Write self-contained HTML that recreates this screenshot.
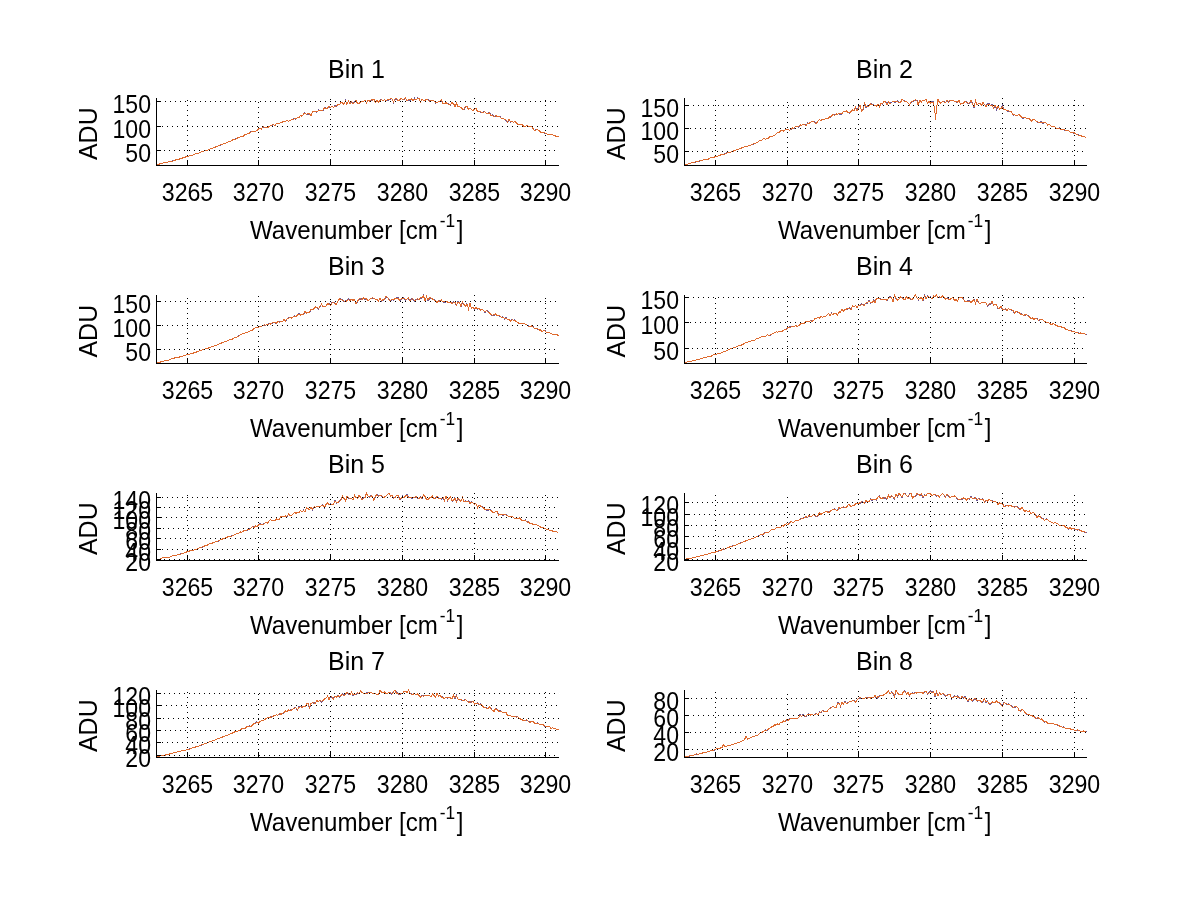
<!DOCTYPE html><html><head><meta charset="utf-8"><style>html,body{margin:0;padding:0;background:#fff;overflow:hidden}svg{display:block}</style></head><body><svg width="1200" height="901" viewBox="0 0 1200 901"><rect width="1200" height="901" fill="#fff"/><g stroke-width="1" fill="none" shape-rendering="crispEdges"><path d="M156.5 164.6 158 164.4 159.5 164 161 163.6 162.5 163.3 164 162.8 165.5 162.8 167 162.6 168.5 161.9 170 161.5 171.5 161.2 173 160.9 174.5 160.4 176 159.8 177.5 159.5 179 159.4 180.5 158.5 182 158.2 183.5 157.4 185 157.2 186.5 156.7 188 156.5 189.5 155.9 191 155.7 192.5 155.3 194 154.6 195.5 153.7 197 153.7 198.5 153.4 200 152.6 201.5 151.8 203 151.5 204.5 150.9 206 150.3 207.5 150.2 209 149.3 210.5 148.8 212 148.4 213.5 147.6 215 147 216.5 146.5 218 146 219.5 145.3 221 144.9 222.5 144.5 224 143.4 225.5 143.4 227 142.6 228.5 141.7 230 141.8 231.5 140.9 233 139.5 234.5 139.2 236 138.8 237.5 138.2 239 137.7 240.5 136.9 242 136.3 243.5 136.3 245 134.4 246.5 134.3 248 133.8 249.5 133.2 251 131.7 252.5 131.5 254 131.2 255.5 131.4 257 130.7 258.5 128.4 260 128.5 261.5 129 263 126.8 264.5 127.6 266 127.1 267.5 127.7 269 126.4 270.5 125.7 272 125.6 273.5 124.9 275 125.6 276.5 123.7 278 123.8 279.5 123.1 281 122.6 282.5 122.2 284 121.1 285.5 121.2 287 120.6 288.5 121.4 290 120.6 291.5 119.5 293 119.3 294.5 118.3 296 119.3 297.5 117.3 299 117.6 300.5 115.6 302 116.1 303.5 114 305 112.7 306.5 114.7 308 114 309.5 114.5 311 115.4 312.5 112 314 111.5 315.5 111.9 317 112.3 318.5 110 320 110.4 321.5 110.6 323 110.5 324.5 107.8 326 108.1 327.5 108.2 329 106.7 330.5 107.6 332 106 333.5 107.4 335 105.4 336.5 106.2 338 104.9 339.5 104.9 341 102.1 342.5 103.2 344 104.2 345.5 100.5 347 104.4 348.5 101.4 350 103.3 351.5 102.2 353 103.3 354.5 102 356 100.8 357.5 103.7 359 103.3 360.5 101.5 362 101.7 363.5 101.9 365 99.9 366.5 103 368 100.8 369.5 100.7 371 100.1 372.5 100.1 374 98.8 375.5 102.3 377 100.5 378.5 102 380 100.3 381.5 99.3 383 101.3 384.5 99.7 386 100.7 387.5 100.3 389 100.1 390.5 99.3 392 98.6 393.5 102.7 395 98.9 396.5 99.4 398 101.2 399.5 99.4 401 98 402.5 99.9 404 99.4 405.5 98 407 100.9 408.5 100.1 410 100.4 411.5 98.9 413 101.1 414.5 98.2 416 100.2 417.5 98 419 98.9 420.5 101.9 422 99.1 423.5 100.8 425 99.8 426.5 99.3 428 98.9 429.5 101.3 431 100.3 432.5 100.9 434 100.7 435.5 103.1 437 102.1 438.5 101.9 440 101.1 441.5 100.5 443 103.2 444.5 103.6 446 102.4 447.5 103.7 449 103.9 450.5 105.1 452 102.4 453.5 103.8 455 106.1 456.5 103.6 458 106.7 459.5 106.3 461 108.2 462.5 109.2 464 109.8 465.5 106.7 467 105.9 468.5 109.5 470 108.1 471.5 109.6 473 111 474.5 108.5 476 107.9 477.5 111.5 479 110.9 480.5 112 482 112.4 483.5 111.8 485 111.8 486.5 113.8 488 112.8 489.5 112.4 491 115.2 492.5 114.8 494 116 495.5 116 497 115.9 498.5 116.6 500 116.5 501.5 118.5 503 117.9 504.5 119.5 506 120.2 507.5 122.5 509 119.6 510.5 122 512 121.3 513.5 122.3 515 121.5 516.5 123.1 518 124.3 519.5 124.6 521 124.3 522.5 125 524 126.8 525.5 126.2 527 125.1 528.5 126.8 530 126.2 531.5 126.3 533 129.1 534.5 130.5 536 129.8 537.5 129.7 539 130.5 540.5 132.4 542 132 543.5 132.5 545 133.2 546.5 133.7 548 134.3 549.5 134.5 551 134.7 552.5 134.7 554 135.6 555.5 136 557 136.9 558.5 136.5" stroke="#6a5898"/><path d="M156.5 164.6 158 164.4 159.5 164 161 163.5 162.5 163.3 164 162.8 165.5 162.7 167 162.6 168.5 161.8 170 161.4 171.5 161.3 173 160.9 174.5 160.4 176 159.8 177.5 159.6 179 159.3 180.5 158.5 182 158.2 183.5 157.5 185 157.2 186.5 156.7 188 156.5 189.5 155.9 191 155.7 192.5 155.2 194 154.7 195.5 153.7 197 153.6 198.5 153.2 200 152.7 201.5 151.8 203 151.5 204.5 150.9 206 150.4 207.5 150.2 209 149.3 210.5 148.9 212 148.5 213.5 147.6 215 147.2 216.5 146.6 218 146.1 219.5 145.2 221 144.9 222.5 144.6 224 143.4 225.5 143.4 227 142.6 228.5 141.7 230 141.9 231.5 140.9 233 139.6 234.5 139.4 236 138.9 237.5 138 239 137.7 240.5 136.7 242 136.4 243.5 136.1 245 134.5 246.5 134.3 248 133.4 249.5 133.1 251 131.8 252.5 131.5 254 131.1 255.5 131.2 257 130.8 258.5 128.8 260 128.6 261.5 129 263 126.8 264.5 127.3 266 127.1 267.5 127.5 269 126.7 270.5 125.5 272 125 273.5 124.7 275 125.6 276.5 123.7 278 123.3 279.5 123.4 281 122.6 282.5 122.1 284 120.9 285.5 121.4 287 120.5 288.5 121.5 290 120.6 291.5 119.5 293 119.7 294.5 118.3 296 119.1 297.5 117.6 299 117.7 300.5 115.4 302 116.4 303.5 114 305 113.1 306.5 114.3 308 113.2 309.5 113.8 311 115.5 312.5 111.7 314 111.5 315.5 111.9 317 111.7 318.5 110.5 320 110 321.5 110.6 323 109.9 324.5 107.7 326 108.4 327.5 108.1 329 106.4 330.5 107.6 332 105.8 333.5 107.7 335 106.3 336.5 105.8 338 104.6 339.5 104.8 341 102 342.5 102.8 344 104.4 345.5 100.8 347 104.4 348.5 100.8 350 103.9 351.5 101.6 353 103.6 354.5 102.6 356 100.2 357.5 103.7 359 103.9 360.5 101.7 362 101.3 363.5 101.3 365 100.1 366.5 102.8 368 100.5 369.5 101 371 99.9 372.5 100.1 374 99.1 375.5 102.5 377 100.5 378.5 102 380 100.6 381.5 99.5 383 100.7 384.5 99.6 386 100.3 387.5 99.7 389 99.8 390.5 98.2 392 99 393.5 102.3 395 99.1 396.5 98.5 398 100.4 399.5 100.3 401 98 402.5 99.6 404 99 405.5 98 407 100.9 408.5 99.9 410 100 411.5 98.9 413 100.6 414.5 99.3 416 99.8 417.5 98.5 419 98.4 420.5 102 422 99.5 423.5 100.6 425 100.2 426.5 99.7 428 99.7 429.5 101.3 431 100.1 432.5 100.4 434 100.8 435.5 102.6 437 102.1 438.5 101.9 440 100.9 441.5 100 443 103.4 444.5 103.7 446 102.5 447.5 103.7 449 104.3 450.5 104.6 452 102.6 453.5 103.6 455 106.5 456.5 103.4 458 106.5 459.5 106.5 461 107.4 462.5 109 464 109 465.5 106.3 467 106.2 468.5 109.6 470 108 471.5 109.6 473 111 474.5 108.6 476 108.6 477.5 111.6 479 111.8 480.5 111.9 482 112.6 483.5 112.1 485 111.8 486.5 113.7 488 113.3 489.5 113 491 115.6 492.5 115.5 494 116.4 495.5 115.5 497 116.2 498.5 116.4 500 117 501.5 118.4 503 118 504.5 119.5 506 120 507.5 121.9 509 119.5 510.5 121.9 512 121.6 513.5 122.2 515 121.5 516.5 122.8 518 124.3 519.5 124.2 521 124.8 522.5 125 524 126.6 525.5 126.3 527 125.3 528.5 126.9 530 126.6 531.5 126.3 533 128.6 534.5 130.3 536 130 537.5 129.9 539 130.5 540.5 132.2 542 132.2 543.5 132.6 545 133 546.5 133.6 548 134.4 549.5 134.7 551 135 552.5 134.8 554 136 555.5 135.9 557 137 558.5 136.4" stroke="#de6a2e"/><path d="M684.5 164.6 686 164.6 687.5 164.2 689 163.7 690.5 163.2 692 162.8 693.5 162.7 695 162.2 696.5 161.7 698 161.3 699.5 161.1 701 160.4 702.5 160.2 704 159.5 705.5 159.7 707 159.2 708.5 159.1 710 157.9 711.5 157.6 713 157.6 714.5 156.9 716 156.6 717.5 156.4 719 155.7 720.5 155 722 154.5 723.5 154.3 725 153.8 726.5 153 728 152.6 729.5 152.4 731 151.9 732.5 151.1 734 150.9 735.5 150.3 737 149.4 738.5 149.3 740 148.8 741.5 148 743 147.1 744.5 146.9 746 146.6 747.5 146.4 749 144.9 750.5 145.4 752 144 753.5 144 755 143.6 756.5 142.7 758 141.9 759.5 140.8 761 140.9 762.5 139.6 764 138.3 765.5 139.5 767 138.1 768.5 138.1 770 136.6 771.5 136.5 773 136.2 774.5 135.4 776 133.8 777.5 132.7 779 132.6 780.5 130.8 782 131 783.5 130.7 785 129.9 786.5 129.9 788 129.2 789.5 130.2 791 129.5 792.5 128 794 128.4 795.5 126.7 797 125.9 798.5 127.2 800 125.5 801.5 125.5 803 124.3 804.5 124.3 806 125.4 807.5 123 809 123.4 810.5 122.6 812 121.5 813.5 121.1 815 122.4 816.5 123.2 818 121.3 819.5 119.6 821 120.4 822.5 119.8 824 119.4 825.5 118.5 827 118.1 828.5 118.6 830 117.3 831.5 116.4 833 114.3 834.5 115.1 836 114.2 837.5 114.3 839 113.8 840.5 114.4 842 113.8 843.5 111.6 845 111.8 846.5 111.5 848 111.9 849.5 113.4 851 111.4 852.5 109.5 854 110.6 855.5 107.5 857 110.3 858.5 107.1 860 104.7 861.5 111.5 863 110.1 864.5 103.5 866 107.4 867.5 105.8 869 106 870.5 103.9 872 103.9 873.5 105.1 875 105 876.5 105.8 878 103.8 879.5 107.2 881 102.7 882.5 104.4 884 100.9 885.5 101.4 887 104.9 888.5 101.5 890 103.1 891.5 102.3 893 101.4 894.5 102.1 896 102.1 897.5 100.6 899 102.7 900.5 102.5 902 99.4 903.5 100.2 905 101.7 906.5 101.7 908 102.9 909.5 104.4 911 102.8 912.5 101.6 914 100.6 915.5 100.3 917 100.4 918 105.1 918.5 103.7 920 99.9 921.5 101.7 923 99.9 924.5 100.6 926 99.1 927.5 103 929 101.1 930.5 101.4 932 101.8 933.5 101.9 935 112.7 935.5 120.3 936.5 108.4 938 98.9 939.5 102.4 941 103.2 942.5 101.3 944 101.8 945.5 102.4 947 100.8 948.5 101.8 950 100.5 951.5 100.3 953 100.6 954.5 101.2 956 102 957.5 102.7 959 99.9 960.5 104.2 962 103.1 963.5 103.8 965 101.5 966.5 102 968 103.8 969.5 103.5 971 100.6 972.5 103.6 974 107.9 975.5 100.7 977 104.8 978.5 103.8 980 102.8 981.5 105 983 102.6 984.5 104.6 986 106.2 987.5 103.9 989 103.7 990.5 105.2 992 104.4 993.5 108.4 995 105.9 996.5 109.5 998 106.6 999.5 109 1001 108.6 1002.5 105.2 1004 109.9 1005.5 109.4 1007 111.1 1008.5 111.2 1010 111.3 1011.5 111.8 1013 115.2 1014.5 114.6 1016 115.7 1017.5 115.2 1019 114.2 1020.5 116.6 1022 118.2 1023.5 118.3 1025 117.2 1026.5 118.2 1028 118.4 1029.5 118.6 1031 121.2 1032.5 120.2 1034 119.3 1035.5 120.7 1037 121.9 1038.5 122.2 1040 122 1041.5 121.9 1043 123.3 1044.5 122.1 1046 123 1047.5 124.9 1049 124.1 1050.5 125.8 1052 126.4 1053.5 126.9 1055 126.9 1056.5 128.4 1058 128.1 1059.5 128 1061 129.2 1062.5 129.5 1064 129.6 1065.5 130.6 1067 131.1 1068.5 130.5 1070 132.2 1071.5 132.4 1073 133 1074.5 133 1076 134.1 1077.5 134.7 1079 135.1 1080.5 135.3 1082 136.6 1083.5 136.1 1085 137 1086.5 138.2" stroke="#6a5898"/><path d="M684.5 164.7 686 164.6 687.5 164.1 689 163.8 690.5 163.2 692 162.7 693.5 162.6 695 162.1 696.5 161.6 698 161.3 699.5 161 701 160.4 702.5 160.1 704 159.6 705.5 159.6 707 159.2 708.5 159.1 710 158 711.5 157.7 713 157.6 714.5 157 716 156.5 717.5 156.5 719 155.6 720.5 155 722 154.5 723.5 154.4 725 153.9 726.5 153.1 728 152.6 729.5 152.4 731 151.9 732.5 151.2 734 150.9 735.5 150.4 737 149.4 738.5 149.2 740 148.8 741.5 148.1 743 147.2 744.5 147 746 146.7 747.5 146.3 749 145 750.5 145.4 752 144.1 753.5 144 755 143.4 756.5 142.8 758 141.9 759.5 140.9 761 140.8 762.5 139.7 764 138.4 765.5 139.7 767 138.2 768.5 138 770 136.3 771.5 136.6 773 136 774.5 135.4 776 134 777.5 132.8 779 132.7 780.5 131 782 130.6 783.5 131 785 129.9 786.5 129.8 788 129.3 789.5 130.1 791 129.3 792.5 127.9 794 128.3 795.5 126.6 797 126.4 798.5 126.9 800 124.9 801.5 125.2 803 124 804.5 124.7 806 125.4 807.5 123.2 809 123.6 810.5 122.3 812 121.7 813.5 121.2 815 123 816.5 123.3 818 121.3 819.5 119.8 821 120.6 822.5 119.3 824 119.8 825.5 118.9 827 118.4 828.5 118.2 830 116.6 831.5 116.3 833 114.5 834.5 115.3 836 113.8 837.5 114.6 839 113.3 840.5 113.9 842 113.8 843.5 111.4 845 111.5 846.5 110.9 848 112.3 849.5 112.9 851 111.5 852.5 109.8 854 110.6 855.5 107.6 857 110.7 858.5 107.8 860 105.1 861.5 110.9 863 109.3 864.5 103.3 866 106.8 867.5 106 869 106 870.5 103.7 872 104.4 873.5 105.6 875 105 876.5 106 878 104.3 879.5 107 881 102.9 882.5 103.9 884 100.9 885.5 101.6 887 104.8 888.5 101.6 890 103.4 891.5 102.5 893 101 894.5 101.8 896 101.5 897.5 101.4 899 102.9 900.5 102.7 902 99.4 903.5 100.4 905 101.9 906.5 101.3 908 102.8 909.5 104.9 911 102.1 912.5 101.1 914 100.9 915.5 99.9 917 100.8 918 104.6 918.5 103.8 920 100.3 921.5 101.9 923 100.2 924.5 100.5 926 99.1 927.5 103 929 101.4 930.5 103.2 932 101.8 933.5 102.8 935 112.6 935.5 119.7 936.5 108.3 938 99.1 939.5 102.5 941 103.2 942.5 101.5 944 102 945.5 102.8 947 100.2 948.5 101.8 950 100.1 951.5 100.4 953 100.6 954.5 101.3 956 101.8 957.5 102.3 959 99.8 960.5 104.5 962 103.5 963.5 103 965 101.6 966.5 102.1 968 103.1 969.5 103 971 100.4 972.5 103.7 974 106.8 975.5 100.6 977 104.5 978.5 103.9 980 103.4 981.5 105.6 983 102.4 984.5 104.4 986 106.4 987.5 104.4 989 104.4 990.5 105.3 992 105 993.5 108 995 105.4 996.5 108.3 998 106.3 999.5 109.2 1001 108.9 1002.5 106.6 1004 110.1 1005.5 109.5 1007 110.7 1008.5 111 1010 111.1 1011.5 111.7 1013 114.9 1014.5 114.1 1016 116.1 1017.5 115.4 1019 114.7 1020.5 116 1022 117.8 1023.5 118 1025 117.6 1026.5 118.2 1028 118.5 1029.5 118.5 1031 121.3 1032.5 120 1034 119.4 1035.5 120.5 1037 121.8 1038.5 122.3 1040 122.1 1041.5 122.1 1043 123.1 1044.5 122.2 1046 122.9 1047.5 125 1049 124.5 1050.5 125.6 1052 126.7 1053.5 126.7 1055 126.8 1056.5 128.8 1058 128.3 1059.5 128.1 1061 129.4 1062.5 129.7 1064 129.5 1065.5 130.6 1067 131 1068.5 130.5 1070 132.1 1071.5 132.6 1073 133 1074.5 132.9 1076 134.1 1077.5 134.7 1079 135.3 1080.5 135.2 1082 136.5 1083.5 136.2 1085 137.1 1086.5 138.2" stroke="#de6a2e"/><path d="M156.5 362.7 158 362.4 159.5 362.3 161 361.9 162.5 361.2 164 361.1 165.5 360.3 167 360.8 168.5 360.2 170 359.4 171.5 358.9 173 358.8 174.5 358 176 357.9 177.5 357.8 179 357.1 180.5 356.6 182 356.3 183.5 355.7 185 355.5 186.5 354.8 188 354.4 189.5 354.3 191 353.4 192.5 353.6 194 352.6 195.5 352.7 197 351.5 198.5 351.4 200 350.7 201.5 350.1 203 349.9 204.5 349.5 206 348.5 207.5 348.5 209 347.7 210.5 347.2 212 346.8 213.5 346.4 215 345.4 216.5 345.3 218 344.6 219.5 343.8 221 343.3 222.5 342.6 224 342.1 225.5 341.8 227 340.9 228.5 340.2 230 339.7 231.5 339.6 233 338.5 234.5 337.8 236 337.7 237.5 336.6 239 335.6 240.5 334.9 242 333.9 243.5 333.3 245 332.9 246.5 332.3 248 332.1 249.5 331.4 251 330.7 252.5 329.8 254 328.6 255.5 327.5 257 327.6 258.5 326.8 260 326.6 261.5 326.7 263 325.3 264.5 325.2 266 325 267.5 324.7 269 323.4 270.5 324 272 323.5 273.5 322.2 275 322.7 276.5 323.6 278 321.2 279.5 322 281 321.8 282.5 321.7 284 319.3 285.5 321.2 287 319.1 288.5 318 290 317.7 291.5 317.7 293 317.3 294.5 315.7 296 317 297.5 315.5 299 313.7 300.5 314.6 302 314.3 303.5 314.6 305 311.4 306.5 313.2 308 311.9 309.5 312.4 311 310 312.5 309.9 314 308.5 315.5 306.6 317 307.3 318.5 308.9 320 306.7 321.5 304.1 323 306.4 324.5 306.9 326 306.1 327.5 303.6 329 303.6 330.5 305 332 302.5 333.5 302.4 335 303.2 336.5 304.6 338 301 339.5 298.2 341 299.5 342.5 299.7 344 301.4 345.5 300.6 347 300.4 348.5 298.9 350 300.5 351.5 299.5 353 300 354.5 299.5 356 303.3 357.5 302.1 359 299.4 360.5 299.2 362 298.8 363.5 297.3 365 299.4 366.5 298.8 368 300.9 369.5 299.4 371 298.1 372.5 298.3 374 298.1 375.5 299.8 377 299 378.5 301.3 380 298.3 381.5 301.2 383 300.2 384.5 299.7 386 296.8 387.5 297.7 389 298.8 390.5 301.3 392 299.1 393.5 300 395 298.2 396.5 297.7 398 297.6 399.5 300.4 401 299.9 402.5 298.1 404 297.9 405.5 300.2 407 298.8 408.5 298.6 410 301.1 411.5 298.7 413 299.3 414.5 301.6 416 299.6 417.5 299.5 419 299.5 420.5 298.2 422 297.9 423.5 295.2 425 300.9 426.5 296.9 428 301 429.5 298.8 431 298.2 432.5 299 434 299.7 435.5 300.4 437 302 438.5 300.6 440 300.6 441.5 300.2 443 302.1 444.5 302.9 446 301.6 447.5 301.8 449 302.6 450.5 301.5 452 303.2 453.5 301.8 455 303.2 456.5 305 458 301.5 459.5 302.9 461 306.9 462.5 301.9 464 304.5 465.5 306 467 303.6 468.5 309.2 470 303.9 471.5 308.1 473 307.1 474.5 309 476 307.4 477.5 309.2 479 308 480.5 310.6 482 309.4 483.5 310.5 485 312.4 486.5 310.2 488 311.6 489.5 313.2 491 314.9 492.5 315.6 494 315.7 495.5 313.8 497 315.7 498.5 315.8 500 316.1 501.5 317.2 503 316.7 504.5 319.1 506 317.6 507.5 319.9 509 318.9 510.5 321.2 512 319.5 513.5 320.4 515 319.7 516.5 321.8 518 322.9 519.5 323.7 521 323.8 522.5 323.3 524 323.1 525.5 324.6 527 324.9 528.5 326 530 326.6 531.5 325.8 533 326.4 534.5 328.5 536 328.3 537.5 329.2 539 329.8 540.5 329.9 542 331.8 543.5 330.5 545 330.4 546.5 332.6 548 332 549.5 332.9 551 333.4 552.5 334.2 554 334.3 555.5 334.5 557 334.7 558.5 335.6" stroke="#6a5898"/><path d="M156.5 362.7 158 362.4 159.5 362.2 161 361.9 162.5 361.3 164 361.1 165.5 360.3 167 360.7 168.5 360.1 170 359.5 171.5 358.9 173 358.8 174.5 358 176 357.8 177.5 357.7 179 357.2 180.5 356.6 182 356.5 183.5 355.7 185 355.5 186.5 354.9 188 354.4 189.5 354.2 191 353.5 192.5 353.6 194 352.6 195.5 352.7 197 351.6 198.5 351.5 200 350.6 201.5 350.1 203 349.9 204.5 349.5 206 348.6 207.5 348.6 209 347.6 210.5 347.3 212 346.8 213.5 346.3 215 345.3 216.5 345.4 218 344.7 219.5 343.9 221 343.2 222.5 342.5 224 342 225.5 341.8 227 341 228.5 340.2 230 339.7 231.5 339.7 233 338.5 234.5 337.7 236 337.7 237.5 336.7 239 335.9 240.5 334.9 242 333.8 243.5 333.3 245 332.9 246.5 332.4 248 332 249.5 331.4 251 330.6 252.5 330 254 328.7 255.5 327.5 257 327.8 258.5 327 260 326.7 261.5 326.4 263 325.3 264.5 324.9 266 325.1 267.5 324.7 269 323.8 270.5 324.1 272 323.2 273.5 322.2 275 322.5 276.5 323.4 278 321.2 279.5 322.1 281 321.8 282.5 321.5 284 319.2 285.5 321 287 319 288.5 318.3 290 317.8 291.5 318 293 317 294.5 316.3 296 317.1 297.5 314.7 299 313.8 300.5 315 302 314.3 303.5 314.1 305 311.4 306.5 313 308 311.8 309.5 312.6 311 308.9 312.5 309.8 314 308.7 315.5 306.8 317 307.2 318.5 308.7 320 306.4 321.5 304 323 307 324.5 306.7 326 306.2 327.5 303.7 329 304.2 330.5 305.2 332 302.8 333.5 302.4 335 303.8 336.5 304.5 338 300.9 339.5 298.7 341 299.8 342.5 300.1 344 301 345.5 301.7 347 300.6 348.5 299.7 350 300.7 351.5 299.2 353 300.3 354.5 299.4 356 303.7 357.5 301.2 359 299 360.5 298.7 362 299.4 363.5 297.8 365 298.9 366.5 298.9 368 301 369.5 299.2 371 298.7 372.5 297.9 374 298.1 375.5 299.5 377 299.3 378.5 301 380 298.6 381.5 300.8 383 299.7 384.5 299.3 386 296.5 387.5 297.4 389 300.1 390.5 300.9 392 299.2 393.5 299.9 395 298.3 396.5 298.3 398 297.9 399.5 300.1 401 299.2 402.5 298.4 404 298.3 405.5 299.5 407 299.2 408.5 297.6 410 301.1 411.5 299.1 413 298.8 414.5 300.8 416 300.2 417.5 298.7 419 299.6 420.5 297.5 422 298.1 423.5 295.9 425 300.7 426.5 296.5 428 300 429.5 298 431 297.9 432.5 299.1 434 299.9 435.5 300.6 437 302.4 438.5 300.8 440 301.7 441.5 300.1 443 302.1 444.5 301.7 446 301.3 447.5 302 449 302.4 450.5 302 452 303.5 453.5 302.6 455 302.6 456.5 304.7 458 302 459.5 303 461 306.5 462.5 301.7 464 304.4 465.5 306.3 467 303.9 468.5 309.1 470 303.5 471.5 308.5 473 307.6 474.5 308.6 476 307.7 477.5 308.8 479 307.9 480.5 310.3 482 308.8 483.5 310.2 485 312.1 486.5 310.5 488 311.9 489.5 313 491 314.3 492.5 315.1 494 314.9 495.5 313.7 497 315.6 498.5 315.5 500 316.1 501.5 317.2 503 317 504.5 318.8 506 317.9 507.5 319.7 509 319.3 510.5 320.9 512 319.8 513.5 320.2 515 320.2 516.5 321.9 518 322.6 519.5 323.9 521 323.7 522.5 323.5 524 323.6 525.5 324.5 527 324.8 528.5 326.3 530 326.5 531.5 326 533 326.7 534.5 328.5 536 328.4 537.5 328.7 539 330.1 540.5 329.8 542 331.6 543.5 330.9 545 330.7 546.5 332.5 548 332 549.5 332.8 551 333.2 552.5 334.3 554 334.4 555.5 334.9 557 334.6 558.5 335.7" stroke="#de6a2e"/><path d="M684.5 362.6 686 362.3 687.5 361.8 689 361.6 690.5 361.3 692 361 693.5 360.7 695 360.3 696.5 360 698 359.5 699.5 359.2 701 358.6 702.5 358.1 704 357.6 705.5 357.5 707 357.1 708.5 356.5 710 356 711.5 356.2 713 355.1 714.5 354.8 716 354.3 717.5 353.6 719 353.4 720.5 353.2 722 352.6 723.5 351.8 725 351.3 726.5 350.6 728 349.9 729.5 349.3 731 348.7 732.5 348.3 734 347.7 735.5 347.1 737 346.6 738.5 345.4 740 345.5 741.5 345.2 743 344.3 744.5 343.3 746 342.7 747.5 342.3 749 341.4 750.5 341.3 752 340.4 753.5 340.4 755 340 756.5 338.5 758 338.6 759.5 337.6 761 336.9 762.5 336.8 764 336.3 765.5 336.7 767 334.7 768.5 335.2 770 335.4 771.5 334.2 773 333.6 774.5 332.8 776 331.9 777.5 332.2 779 331.7 780.5 331.2 782 331.8 783.5 330.4 785 329.7 786.5 329.1 788 327.3 789.5 326.9 791 327 792.5 326.4 794 326.9 795.5 325.6 797 326.3 798.5 325.7 800 325.1 801.5 323.2 803 323.6 804.5 323.5 806 321.3 807.5 321.2 809 321.6 810.5 320.6 812 321.2 813.5 320.8 815 318.4 816.5 318.5 818 317.6 819.5 318.1 821 316.3 822.5 317.5 824 316.5 825.5 316.4 827 314.8 828.5 313.3 830 315.5 831.5 313.1 833 315 834.5 313.1 836 313 837.5 315.2 839 311.8 840.5 312.4 842 309 843.5 310.7 845 309.7 846.5 308.8 848 309.1 849.5 307.9 851 309.3 852.5 305.7 854 307 855.5 305.5 857 307.6 858.5 304.8 860 305.8 861.5 303.4 863 305 864.5 304.9 866 303.2 867.5 303.4 869 300.4 870.5 303.2 872 302.6 873.5 299.7 875 301.4 876.5 298.8 878 298 879.5 298.2 881 299.1 882.5 299.4 884 300.2 885.5 299.4 887 301.1 888.5 298.4 890 296.2 891.5 297.5 893 301.4 894.5 295.2 896 298.9 897.5 300.2 899 299.4 900.5 296.9 902 297.6 903.5 299.4 905 299.2 906.5 297.1 908 299.2 909.5 298 911 299.4 912.5 299.7 914 296.9 915.5 295 917 297.8 918.5 300.1 920 297.8 921.5 297.6 923 300.7 924.5 295.3 926 298.2 927.5 296 929 297.5 930.5 296.8 932 299.3 933.5 296.4 935 296.4 936.5 295 938 297.8 939.5 297 941 297.7 942.5 296.5 944 297.4 945.5 299.5 947 297.7 948.5 298.9 950 299.2 951.5 298.4 953 297.2 954.5 300.8 956 299.6 957.5 301 959 297.4 960.5 297.1 962 297.1 963.5 298.9 965 301.9 966.5 301.4 968 300.8 969.5 300.9 971 302.6 972.5 301.2 974 299 975.5 303.5 977 298.9 978.5 302.6 980 304.1 981.5 302.2 983 303 984.5 302.6 986 303.1 987.5 306.1 989 304.3 990.5 304 992 302.1 993.5 304.7 995 304.6 996.5 304.9 998 308.4 999.5 308 1001 306.2 1002.5 309.6 1004 309.2 1005.5 309.4 1007 310.8 1008.5 308.5 1010 309.5 1011.5 310 1013 310.9 1014.5 313.2 1016 311.7 1017.5 312.4 1019 312.2 1020.5 314 1022 313.8 1023.5 315.7 1025 315.2 1026.5 314.9 1028 315.5 1029.5 316.7 1031 319.2 1032.5 317.7 1034 319.6 1035.5 318.2 1037 318.5 1038.5 320.8 1040 319.5 1041.5 319.9 1043 319.7 1044.5 321.4 1046 322 1047.5 322.2 1049 322.8 1050.5 324.2 1052 324.8 1053.5 323.6 1055 324.6 1056.5 325.3 1058 326.8 1059.5 326.4 1061 327.1 1062.5 327.9 1064 327.4 1065.5 329 1067 329.4 1068.5 330.3 1070 330.1 1071.5 331 1073 331.4 1074.5 331.5 1076 332.8 1077.5 332.6 1079 333.2 1080.5 333.2 1082 333.5 1083.5 333.2 1085 334.2 1086.5 334.1" stroke="#6a5898"/><path d="M684.5 362.6 686 362.2 687.5 361.9 689 361.6 690.5 361.4 692 361 693.5 360.6 695 360.2 696.5 360 698 359.5 699.5 359.1 701 358.7 702.5 358.2 704 357.6 705.5 357.5 707 357.1 708.5 356.5 710 356 711.5 356.1 713 355.1 714.5 354.7 716 354.3 717.5 353.6 719 353.3 720.5 353.1 722 352.4 723.5 351.8 725 351.3 726.5 350.6 728 350.2 729.5 349.4 731 348.7 732.5 348.2 734 347.8 735.5 347.1 737 346.5 738.5 345.4 740 345.4 741.5 345 743 344.3 744.5 343.3 746 342.6 747.5 342.3 749 341.4 750.5 341.3 752 340.4 753.5 340.3 755 339.9 756.5 338.4 758 338.5 759.5 337.7 761 336.9 762.5 336.7 764 336.3 765.5 336.3 767 334.8 768.5 335.3 770 335.2 771.5 334.1 773 333.6 774.5 332.8 776 331.8 777.5 332.1 779 331.5 780.5 331.2 782 331.7 783.5 330.2 785 329.6 786.5 329.7 788 327.5 789.5 327.1 791 327 792.5 326.3 794 326.7 795.5 325.5 797 326.3 798.5 325.7 800 324.6 801.5 323.3 803 323.5 804.5 323.1 806 321.2 807.5 321.8 809 321.5 810.5 320.7 812 321.2 813.5 320.5 815 318.3 816.5 318.6 818 317.3 819.5 318 821 316.3 822.5 317.4 824 316.4 825.5 316.5 827 315 828.5 313.3 830 315.9 831.5 313.5 833 314.6 834.5 313.2 836 313 837.5 315.2 839 311.8 840.5 312.4 842 309 843.5 311 845 309.3 846.5 309 848 308.7 849.5 308.7 851 309.7 852.5 305.3 854 307 855.5 305.7 857 307.5 858.5 305.2 860 305.8 861.5 304.3 863 305.2 864.5 305.1 866 302.9 867.5 303 869 300.8 870.5 302.5 872 302.8 873.5 300.7 875 302.5 876.5 298.1 878 298.1 879.5 298.5 881 299.4 882.5 299.9 884 299.6 885.5 299.4 887 300.3 888.5 298.5 890 297.3 891.5 297.1 893 301.5 894.5 295.3 896 298.2 897.5 300.3 899 298.8 900.5 297 902 298 903.5 299.1 905 299.5 906.5 296.6 908 298.8 909.5 298 911 299.1 912.5 299.5 914 297 915.5 295 917 297.9 918.5 299.8 920 298.2 921.5 297.5 923 300.5 924.5 295.7 926 298.4 927.5 296.3 929 297.1 930.5 297.2 932 299.1 933.5 295.7 935 296.3 936.5 295 938 297.7 939.5 296.5 941 297.9 942.5 296 944 297.1 945.5 299.3 947 297.8 948.5 299.2 950 299.3 951.5 298.3 953 297 954.5 300.6 956 299.7 957.5 301 959 297.2 960.5 297.9 962 297.4 963.5 299.3 965 301.9 966.5 301.5 968 300.9 969.5 301.3 971 302.3 972.5 301.1 974 299.7 975.5 303.5 977 299.4 978.5 301.9 980 304.3 981.5 302.3 983 302.9 984.5 302.6 986 303.1 987.5 305.4 989 304.1 990.5 303.7 992 301.6 993.5 305.1 995 303.9 996.5 304.6 998 308 999.5 308.4 1001 305.9 1002.5 309.4 1004 309.4 1005.5 308.5 1007 310.6 1008.5 308.5 1010 309.5 1011.5 309.7 1013 310.5 1014.5 313 1016 311.2 1017.5 311.9 1019 312.6 1020.5 314.1 1022 314.1 1023.5 315.7 1025 314.7 1026.5 314.7 1028 315.8 1029.5 316.8 1031 318.9 1032.5 317.9 1034 319.6 1035.5 318.1 1037 319 1038.5 320.6 1040 319.4 1041.5 319.7 1043 320 1044.5 321.6 1046 322.2 1047.5 322.2 1049 322.8 1050.5 324.1 1052 324.3 1053.5 323.3 1055 324.8 1056.5 325.4 1058 326.4 1059.5 326.5 1061 326.8 1062.5 327.6 1064 327.5 1065.5 329.1 1067 329.4 1068.5 330.5 1070 330.3 1071.5 331.1 1073 331.2 1074.5 331.6 1076 332.8 1077.5 332.6 1079 333.4 1080.5 333 1082 333.8 1083.5 333.3 1085 334.1 1086.5 334.3" stroke="#de6a2e"/><path d="M156.5 559.4 158 559.1 159.5 559.2 161 558.3 162.5 557.9 164 558 165.5 557.6 167 557.3 168.5 557.1 170 557 171.5 556.2 173 555.8 174.5 555.1 176 555.1 177.5 554.9 179 554.2 180.5 553.9 182 553.5 183.5 553.3 185 552.7 186.5 551.9 188 551.7 189.5 550.9 191 550.5 192.5 550.4 194 550 195.5 549.7 197 548.9 198.5 548.3 200 547.6 201.5 547.5 203 546.7 204.5 546 206 545.6 207.5 545 209 543.9 210.5 543.8 212 543.3 213.5 542.4 215 541.9 216.5 541.8 218 541.2 219.5 540.6 221 539.4 222.5 538.9 224 538.7 225.5 537.7 227 537.2 228.5 536.3 230 536.9 231.5 536 233 535.4 234.5 534.6 236 533.9 237.5 533.3 239 533.1 240.5 531.9 242 532.1 243.5 530.8 245 530.2 246.5 530.7 248 529.5 249.5 529.1 251 528.1 252.5 526.3 254 527.1 255.5 525.8 257 526.6 258.5 524.4 260 523.6 261.5 524.8 263 524.1 264.5 523.2 266 522.7 267.5 523.1 269 520.9 270.5 519.9 272 520.2 273.5 520.6 275 520.2 276.5 518.6 278 519.3 279.5 518.8 281 517 282.5 516.1 284 516.5 285.5 516.1 287 516.5 288.5 514.2 290 515.8 291.5 515.9 293 513.9 294.5 512.5 296 513.5 297.5 512.2 299 512.8 300.5 510.3 302 511.9 303.5 510.2 305 511.8 306.5 507.3 308 508.8 309.5 509.2 311 508 312.5 509.8 314 507.1 315.5 507.5 317 505.9 318.5 506.6 320 506.5 321.5 505.9 323 504.7 324.5 507.8 326 504.3 327.5 503.1 329 504.1 330.5 504 332 504.5 333.5 504.4 335 500.6 336.5 503.1 338 502.4 339.5 501.1 341 499.3 342.5 496.1 344 498.7 345.5 500.5 347 495.7 348.5 498 350 498 351.5 498.4 353 500.2 354.5 495.2 356 497.8 357.5 498.1 359 495.6 360.5 497.5 362 499.6 363.5 497.6 365 497.7 366.5 493.1 368 495.9 369.5 497.6 371 495.1 372.5 497 374 500.1 375.5 496.5 377 494.7 378.5 495.7 380 495.5 381.5 495.6 383 498.1 384.5 497.4 386 495.8 387.5 494.5 389 493.6 390.5 496 392 495 393.5 498.2 395 497.7 396.5 495.4 398 495.2 399.5 498.6 401 499.3 402.5 495.9 404 498.1 405.5 495.5 407 494.1 408.5 497.7 410 497.2 411.5 498.4 413 498.1 414.5 497.5 416 496.9 417.5 498.3 419 498.1 420.5 496.8 422 499.2 423.5 494.8 425 496.4 426.5 499.3 428 499.8 429.5 497.7 431 497.9 432.5 496.6 434 498.4 435.5 498.2 437 496 438.5 498 440 498.4 441.5 499.3 443 497.8 444.5 500.7 446 495.9 447.5 500.7 449 497.7 450.5 496.8 452 501.2 453.5 500.7 455 497.6 456.5 501.3 458 498.4 459.5 499.9 461 501 462.5 497.5 464 501.7 465.5 500.3 467 502.1 468.5 500.8 470 502.9 471.5 501.7 473 503.1 474.5 503.8 476 504.1 477.5 507.4 479 505.2 480.5 505.8 482 506.8 483.5 507.2 485 508.9 486.5 510.1 488 510.4 489.5 509.3 491 510.4 492.5 512.1 494 512.6 495.5 511.6 497 510.9 498.5 514.7 500 514.5 501.5 514.8 503 515.5 504.5 514.7 506 514.7 507.5 515.9 509 516.6 510.5 516.6 512 516 513.5 517.6 515 518.9 516.5 518.1 518 518.8 519.5 518.1 521 519.9 522.5 520.6 524 520.1 525.5 520 527 522.1 528.5 521.6 530 523 531.5 523.1 533 524.3 534.5 524.6 536 523.9 537.5 525.5 539 525.8 540.5 527.3 542 527 543.5 527.4 545 528.8 546.5 529.3 548 529.5 549.5 530.4 551 530.5 552.5 531.2 554 531.6 555.5 531.8 557 532 558.5 532.4" stroke="#6a5898"/><path d="M156.5 559.4 158 559.1 159.5 559.2 161 558.3 162.5 557.9 164 557.9 165.5 557.6 167 557.3 168.5 557.1 170 557 171.5 556.2 173 555.8 174.5 555.1 176 555.2 177.5 554.9 179 554.3 180.5 554.1 182 553.5 183.5 553.4 185 552.7 186.5 552 188 551.7 189.5 551 191 550.5 192.5 550.4 194 550.1 195.5 549.8 197 548.8 198.5 548.3 200 547.5 201.5 547.4 203 546.7 204.5 546 206 545.6 207.5 545 209 544 210.5 543.9 212 543.2 213.5 542.5 215 541.9 216.5 541.8 218 541.1 219.5 540.6 221 539.5 222.5 539 224 538.8 225.5 537.7 227 537.3 228.5 536.4 230 536.9 231.5 536.1 233 535.3 234.5 534.7 236 533.9 237.5 533.3 239 533.1 240.5 532 242 532.2 243.5 530.9 245 530.2 246.5 530.6 248 529.4 249.5 529.2 251 528.1 252.5 526.6 254 527.5 255.5 525.9 257 526.7 258.5 524.7 260 524 261.5 524.7 263 524.3 264.5 523.6 266 522.2 267.5 523.1 269 521 270.5 519.7 272 520.4 273.5 520.2 275 520.6 276.5 519 278 519.4 279.5 519 281 516.6 282.5 516.5 284 516.7 285.5 516 287 516.3 288.5 513.9 290 515.7 291.5 515.3 293 514 294.5 512.5 296 513.3 297.5 512.3 299 512.9 300.5 510.5 302 512.2 303.5 510.6 305 512 306.5 507.8 308 508.7 309.5 509.8 311 507.3 312.5 509.2 314 506.7 315.5 507.6 317 506.1 318.5 506.2 320 506.4 321.5 505.7 323 505 324.5 507.4 326 504.6 327.5 503 329 504.8 330.5 504.3 332 504.3 333.5 504.6 335 500.8 336.5 502.8 338 502.4 339.5 500.6 341 500.4 342.5 495.9 344 498.5 345.5 501.2 347 496.3 348.5 497.6 350 498.5 351.5 498.7 353 500 354.5 495.3 356 497.6 357.5 498.5 359 495.5 360.5 497 362 499.5 363.5 498.6 365 497.5 366.5 493.1 368 496.3 369.5 496.9 371 495.9 372.5 496.2 374 500.4 375.5 495.8 377 494.7 378.5 496.3 380 495.5 381.5 495.5 383 497.8 384.5 497 386 496.2 387.5 494.3 389 493.3 390.5 496.1 392 495.5 393.5 498.7 395 497.4 396.5 495.1 398 495.6 399.5 499.3 401 498.8 402.5 496.7 404 498 405.5 496 407 495 408.5 497.7 410 497.3 411.5 497.7 413 497.1 414.5 497.6 416 496.5 417.5 497.9 419 498.4 420.5 497.2 422 498.4 423.5 495 425 496.4 426.5 499.4 428 499.9 429.5 498 431 497.6 432.5 496.1 434 498.6 435.5 498.9 437 496 438.5 498.7 440 498.7 441.5 498.7 443 496.7 444.5 500.5 446 496.4 447.5 500.4 449 498.7 450.5 497.2 452 500.5 453.5 500.4 455 498.2 456.5 502 458 498.1 459.5 499.9 461 501.3 462.5 497.4 464 501.9 465.5 501.1 467 501.8 468.5 501.1 470 503.4 471.5 502.3 473 503 474.5 504.2 476 503.8 477.5 507.5 479 504.8 480.5 506 482 507 483.5 507.9 485 509.3 486.5 509.9 488 509.3 489.5 509.8 491 510.7 492.5 512 494 512.4 495.5 511.8 497 510.9 498.5 515.3 500 514.7 501.5 514.5 503 515 504.5 514.7 506 514.8 507.5 515.8 509 516.3 510.5 516.4 512 516.2 513.5 517.6 515 518.7 516.5 518.3 518 519.1 519.5 518 521 519.8 522.5 520.4 524 520.1 525.5 520.2 527 522.2 528.5 521.9 530 523.3 531.5 523.2 533 524.4 534.5 524.3 536 524.2 537.5 525.6 539 526 540.5 527 542 527 543.5 527.5 545 528.7 546.5 529.3 548 529.6 549.5 530.2 551 530.4 552.5 531 554 531.5 555.5 531.7 557 532 558.5 532.5" stroke="#de6a2e"/><path d="M684.5 559.6 686 559.1 687.5 558.8 689 558.5 690.5 558.3 692 558.1 693.5 557.7 695 557.3 696.5 556.6 698 556.4 699.5 556.2 701 555.5 702.5 555.6 704 554.9 705.5 554.6 707 554.4 708.5 553.8 710 553.3 711.5 552.9 713 552.6 714.5 552.6 716 551.3 717.5 551.3 719 550.9 720.5 550.6 722 549.7 723.5 549 725 549.2 726.5 548.1 728 547.8 729.5 547 731 546.5 732.5 546 734 545.8 735.5 545.1 737 544.3 738.5 543.9 740 543.1 741.5 542.6 743 542.1 744.5 541.7 746 540.8 747.5 540.2 749 539.8 750.5 539.2 752 538.4 753.5 538.5 755 537.1 756.5 536.9 758 536.1 759.5 535.8 761 534.3 762.5 535 764 533.2 765.5 532.5 767 532.2 768.5 532.7 770 531.2 771.5 529.7 773 529.4 774.5 529.7 776 527.7 777.5 527.6 779 526.9 780.5 527.8 782 525.5 783.5 526.1 785 524.3 786.5 523.6 788 524.5 789.5 523.3 791 521.4 792.5 522.3 794 522.2 795.5 520.6 797 520.8 798.5 520.4 800 518.9 801.5 518.8 803 518 804.5 517.9 806 516.7 807.5 517.5 809 515.8 810.5 516.9 812 515.9 813.5 514.5 815 515.7 816.5 516.5 818 515.8 819.5 512.7 821 514.3 822.5 513.2 824 512.6 825.5 511.6 827 511.5 828.5 511.9 830 511.3 831.5 510.5 833 509.6 834.5 508.6 836 510 837.5 510.3 839 508.2 840.5 508.3 842 507.1 843.5 507 845 507.3 846.5 507.5 848 504.8 849.5 504.4 851 507.2 852.5 505.1 854 505.9 855.5 503.9 857 503.2 858.5 503.5 860 503.3 861.5 502.1 863 501.9 864.5 503.6 866 500.3 867.5 502.2 869 501.4 870.5 498.9 872 500.3 873.5 499.4 875 499 876.5 500.5 878 497.1 879.5 496 881 499.2 882.5 497.5 884 498.1 885.5 498 887 499.3 888.5 495 890 497.8 891.5 495.8 893 497.3 894.5 499 896 493.7 897.5 496.7 899 493.2 900.5 494.8 902 497.5 903.5 493.9 905 493.5 906.5 495.9 908 496.7 909.5 493.7 911 493.6 912.5 498.5 914 496.3 915.5 496.1 917 494.3 918.5 494.4 920 495.4 921.5 494.5 923 497.8 924.5 494.7 926 495.4 927.5 493.4 929 493.5 930.5 493.2 932 495.7 933.5 494.6 935 494.6 936.5 496 938 495 939.5 497 941 494.8 942.5 493.4 944 494.9 945.5 497.4 947 494.4 948.5 496.1 950 497.3 951.5 496.9 953 496.4 954.5 496 956 496.8 957.5 499.5 959 499.6 960.5 499.5 962 499.3 963.5 498.6 965 498.4 966.5 499.6 968 497.8 969.5 498.9 971 496.6 972.5 498.5 974 498.3 975.5 497.3 977 501 978.5 498.3 980 499.1 981.5 499.9 983 498.6 984.5 502.5 986 500.3 987.5 500.8 989 498.9 990.5 500.4 992 500.3 993.5 501.9 995 501.3 996.5 502.2 998 504.1 999.5 503.1 1001 503.8 1002.5 502.8 1004 506.8 1005.5 505.7 1007 505.8 1008.5 506.1 1010 505.8 1011.5 505.9 1013 506.6 1014.5 506.8 1016 506.8 1017.5 506.5 1019 509.1 1020.5 509.2 1022 507 1023.5 509.6 1025 511.9 1026.5 510.9 1028 511.5 1029.5 510.9 1031 514 1032.5 512.3 1034 513.1 1035.5 514.4 1037 517.7 1038.5 516 1040 516.2 1041.5 518.2 1043 518.5 1044.5 520.3 1046 518.8 1047.5 519.6 1049 520.8 1050.5 521.7 1052 522.6 1053.5 523.5 1055 522.1 1056.5 523.1 1058 524.2 1059.5 525.2 1061 525.2 1062.5 525.4 1064 525.5 1065.5 527.2 1067 527.3 1068.5 529 1070 527.8 1071.5 528.9 1073 528.9 1074.5 529 1076 529 1077.5 530.1 1079 529.8 1080.5 530.4 1082 531.1 1083.5 531.5 1085 532.3 1086.5 532.3" stroke="#6a5898"/><path d="M684.5 559.5 686 559 687.5 558.8 689 558.6 690.5 558.3 692 558.1 693.5 557.7 695 557.3 696.5 556.7 698 556.4 699.5 556.3 701 555.6 702.5 555.5 704 555 705.5 554.5 707 554.4 708.5 553.8 710 553.3 711.5 552.9 713 552.7 714.5 552.8 716 551.4 717.5 551.3 719 550.8 720.5 550.6 722 549.8 723.5 548.9 725 549.1 726.5 548.1 728 547.8 729.5 547 731 546.5 732.5 546.1 734 545.8 735.5 545.2 737 544.3 738.5 543.9 740 543.2 741.5 542.7 743 542.1 744.5 541.6 746 540.8 747.5 540.3 749 539.8 750.5 539.2 752 538.4 753.5 538.4 755 537.2 756.5 536.9 758 536.2 759.5 535.9 761 534.1 762.5 534.9 764 533.5 765.5 532.4 767 532.3 768.5 532.5 770 531.2 771.5 529.7 773 529.4 774.5 529.6 776 527.7 777.5 527.6 779 527 780.5 527.7 782 525.7 783.5 526.1 785 524.4 786.5 523.7 788 524.3 789.5 523.5 791 521.5 792.5 522.5 794 522 795.5 520.7 797 520.8 798.5 520.3 800 519.3 801.5 518.7 803 518.2 804.5 518 806 516.7 807.5 517.3 809 515.6 810.5 516.5 812 515.9 813.5 514.7 815 515.8 816.5 516.3 818 515.4 819.5 512.6 821 514.5 822.5 513.2 824 512.5 825.5 511.6 827 511.7 828.5 512.7 830 511.5 831.5 510.2 833 509.5 834.5 509.4 836 510 837.5 510.9 839 507.6 840.5 508.3 842 507.5 843.5 506.7 845 507.5 846.5 507.3 848 504.8 849.5 504.9 851 506.9 852.5 505.6 854 505.4 855.5 503.9 857 503.6 858.5 504.2 860 502.7 861.5 501.5 863 502.4 864.5 503 866 500.2 867.5 502.3 869 501.4 870.5 499.1 872 499.7 873.5 499.3 875 499.8 876.5 499.6 878 496.8 879.5 496.5 881 499.3 882.5 497.9 884 498.1 885.5 497.8 887 499.2 888.5 495.3 890 498.2 891.5 495.4 893 497.3 894.5 498 896 494.1 897.5 496.4 899 493.2 900.5 495.1 902 496.9 903.5 493.9 905 493.9 906.5 496 908 496.2 909.5 494.2 911 493 912.5 498.2 914 496.5 915.5 495.4 917 493.5 918.5 494.1 920 495.3 921.5 493.6 923 497.2 924.5 495.1 926 495.5 927.5 493.5 929 493.7 930.5 493.9 932 495.3 933.5 494.6 935 494.6 936.5 495.4 938 495.3 939.5 497 941 494.7 942.5 493.6 944 494.9 945.5 497 947 494.4 948.5 495.5 950 497.6 951.5 496.8 953 497 954.5 496 956 497.1 957.5 498.9 959 499.3 960.5 499.3 962 498.5 963.5 498 965 498.1 966.5 499.9 968 498.4 969.5 498.9 971 496.8 972.5 498.8 974 498.5 975.5 498 977 500.3 978.5 498.8 980 499.4 981.5 499.7 983 499.3 984.5 502.1 986 499.9 987.5 500.9 989 499.3 990.5 500.6 992 501 993.5 501.3 995 501.3 996.5 502.5 998 504.5 999.5 502.9 1001 503.2 1002.5 503.3 1004 507 1005.5 506.3 1007 505.5 1008.5 506.1 1010 504.9 1011.5 506 1013 506.8 1014.5 507.1 1016 506.5 1017.5 507.1 1019 508.9 1020.5 509.1 1022 507.2 1023.5 509.9 1025 511.6 1026.5 510.3 1028 511.7 1029.5 510.7 1031 513.5 1032.5 512.5 1034 513.1 1035.5 514.7 1037 517.7 1038.5 516 1040 516.3 1041.5 518.4 1043 518.9 1044.5 520.6 1046 519.1 1047.5 519.4 1049 520.9 1050.5 521.9 1052 522.4 1053.5 523.4 1055 522.3 1056.5 523.2 1058 524.1 1059.5 525.2 1061 525.4 1062.5 525.3 1064 525.5 1065.5 527 1067 527.4 1068.5 528.8 1070 527.7 1071.5 529.1 1073 528.8 1074.5 528.9 1076 529.2 1077.5 529.8 1079 530 1080.5 530.6 1082 531.2 1083.5 531.4 1085 532.2 1086.5 532.3" stroke="#de6a2e"/><path d="M156.5 756.6 158 756.2 159.5 756.2 161 755.6 162.5 755.6 164 755.2 165.5 755 167 754.2 168.5 754.4 170 753.9 171.5 753.4 173 753 174.5 752.7 176 752.5 177.5 751.5 179 751.8 180.5 751.3 182 750.7 183.5 750.6 185 750.6 186.5 749.8 188 749.1 189.5 749.1 191 748.1 192.5 747.9 194 747.4 195.5 747 197 746.8 198.5 746.1 200 745.3 201.5 745 203 744.6 204.5 743.7 206 743.4 207.5 742.6 209 742 210.5 741.7 212 740.8 213.5 740.5 215 739.9 216.5 739.1 218 738.6 219.5 738.1 221 737.6 222.5 737 224 736.4 225.5 735.7 227 735.7 228.5 734.9 230 734.1 231.5 733.6 233 732.8 234.5 731.9 236 731.8 237.5 731.6 239 730.5 240.5 730 242 728.4 243.5 728.2 245 728.4 246.5 726.8 248 726.4 249.5 726 251 727.2 252.5 725.2 254 723.7 255.5 723.2 257 721.7 258.5 723.5 260 721.5 261.5 720.4 263 721 264.5 719.1 266 718.8 267.5 717.6 269 717.6 270.5 716.7 272 717.2 273.5 716.1 275 715.2 276.5 714.8 278 715.2 279.5 714.2 281 713.7 282.5 713.9 284 712.7 285.5 710.9 287 711.7 288.5 709.7 290 710.2 291.5 709.5 293 708.9 294.5 707.6 296 708.1 297.5 710.2 299 706 300.5 706.2 302 707.5 303.5 706.5 305 706.6 306.5 703.9 308 703.7 309.5 707.8 311 704.2 312.5 702.8 314 703.2 315.5 702.7 317 700.4 318.5 701.2 320 700.7 321.5 702.2 323 700.5 324.5 698.5 326 698.2 327.5 696 329 699.7 330.5 696.8 332 697.6 333.5 698.1 335 696.9 336.5 697 338 695.5 339.5 697.2 341 695.2 342.5 693.6 344 695.7 345.5 694 347 692.8 348.5 694.2 350 694.4 351.5 692 353 695.4 354.5 694.3 356 694.7 357.5 692.7 359 694.3 360.5 691 362 692.9 363.5 693.1 365 693.4 366.5 693 368 692.7 369.5 692.4 371 692.5 372.5 693.3 374 693.6 375.5 693.7 377 695 378.5 694.4 380 690.2 381.5 691.9 383 692.8 384.5 691.7 386 694 387.5 693.5 389 692.5 390.5 692.9 392 694.4 393.5 691.2 395 690 396.5 692.3 398 693.4 399.5 694.8 401 693.5 402.5 693.4 404 692.2 405.5 691.2 407 692.5 408.5 690 410 693 411.5 694 413 694.8 414.5 693.9 416 694.9 417.5 694 419 695.5 420.5 696.8 422 695.1 423.5 695.7 425 695 426.5 695.4 428 695.7 429.5 695.6 431 697 432.5 694.1 434 695.2 435.5 697.3 437 692.7 438.5 696.2 440 695.7 441.5 696.7 443 697 444.5 698.8 446 697.2 447.5 698 449 697.8 450.5 698 452 699.1 453.5 695.5 455 698.4 456.5 695.5 458 699.2 459.5 699.4 461 699.7 462.5 700.5 464 700.2 465.5 699.5 467 700.8 468.5 702 470 702 471.5 702 473 701.4 474.5 703.7 476 703.1 477.5 702.9 479 705.1 480.5 703.7 482 704.8 483.5 707.5 485 707.5 486.5 707.5 488 708.8 489.5 707.3 491 708.4 492.5 710.5 494 711.3 495.5 708.3 497 709.1 498.5 711.2 500 710.6 501.5 711.8 503 712.7 504.5 712.2 506 712.1 507.5 715.7 509 715.2 510.5 715.7 512 716.7 513.5 716.6 515 716.9 516.5 717 518 716.9 519.5 718.6 521 719.5 522.5 719.7 524 721.1 525.5 720.4 527 719.8 528.5 721.9 530 722 531.5 721.5 533 721.6 534.5 723 536 723.8 537.5 722.9 539 724.1 540.5 724.3 542 724.3 543.5 724.9 545 726.3 546.5 726.2 548 726.6 549.5 726.1 551 728.3 552.5 727.6 554 728.5 555.5 728.7 557 729.7 558.5 729.2" stroke="#6a5898"/><path d="M156.5 756.5 158 756.2 159.5 756.3 161 755.6 162.5 755.6 164 755.3 165.5 755.1 167 754.2 168.5 754.5 170 753.8 171.5 753.5 173 753.1 174.5 752.7 176 752.4 177.5 751.6 179 751.8 180.5 751.3 182 750.7 183.5 750.5 185 750.6 186.5 749.8 188 749.2 189.5 749.2 191 748.3 192.5 747.9 194 747.4 195.5 747 197 746.7 198.5 746.1 200 745.4 201.5 744.9 203 744.4 204.5 743.8 206 743.3 207.5 742.6 209 742.1 210.5 741.7 212 740.9 213.5 740.6 215 739.9 216.5 739.2 218 738.6 219.5 738.1 221 737.5 222.5 737 224 736.4 225.5 735.6 227 735.6 228.5 734.8 230 734 231.5 733.6 233 732.8 234.5 732 236 731.4 237.5 731.7 239 730.4 240.5 729.8 242 728.6 243.5 728.3 245 728.4 246.5 727 248 726.6 249.5 726.1 251 727 252.5 725 254 723.7 255.5 723.2 257 722 258.5 723.3 260 721.4 261.5 720.7 263 720.9 264.5 719.2 266 718.9 267.5 717.8 269 717.8 270.5 717 272 717.1 273.5 716 275 715.2 276.5 714.8 278 715.3 279.5 713.6 281 714.2 282.5 713.5 284 712.6 285.5 710.9 287 711.9 288.5 709.8 290 710.6 291.5 710 293 708.9 294.5 708.2 296 707.8 297.5 709.9 299 707.2 300.5 706.8 302 707.4 303.5 706.4 305 706.6 306.5 703.8 308 703.4 309.5 707.5 311 703.6 312.5 702.8 314 702.9 315.5 703.3 317 700.5 318.5 701.7 320 700.1 321.5 701.2 323 700.3 324.5 699 326 698.2 327.5 696 329 699.6 330.5 696.3 332 697.2 333.5 699.3 335 696.4 336.5 697.2 338 695.8 339.5 696.5 341 695.3 342.5 694.3 344 696.3 345.5 694 347 692.4 348.5 693.5 350 694.5 351.5 692.3 353 694.6 354.5 694.6 356 694 357.5 692.6 359 694.2 360.5 691.1 362 692.7 363.5 693.4 365 693.7 366.5 693.1 368 693 369.5 692.3 371 692.5 372.5 693.4 374 693.7 375.5 693.8 377 694.2 378.5 694.4 380 690.4 381.5 692.1 383 692.5 384.5 691.8 386 694 387.5 693.6 389 692.4 390.5 692.7 392 694.2 393.5 692 395 690 396.5 693.6 398 693 399.5 694.3 401 692.9 402.5 693.4 404 691.7 405.5 691.2 407 692.6 408.5 690 410 693.4 411.5 694.3 413 694.4 414.5 693.2 416 695.1 417.5 693.9 419 695.4 420.5 697.2 422 695.9 423.5 696.1 425 695.7 426.5 695.6 428 695.8 429.5 695.7 431 697.1 432.5 693.9 434 695.7 435.5 696.9 437 693.5 438.5 696.2 440 695.6 441.5 697.1 443 697.7 444.5 698.5 446 697.5 447.5 697.6 449 697.5 450.5 698 452 699.2 453.5 695.1 455 698.3 456.5 695.9 458 699.2 459.5 699.2 461 699.6 462.5 700.5 464 700.3 465.5 699.6 467 701.2 468.5 702.6 470 701.6 471.5 702.2 473 701.4 474.5 704.3 476 703 477.5 703.2 479 704 480.5 704.1 482 705.2 483.5 707.1 485 707.1 486.5 708.2 488 708.8 489.5 707 491 708.8 492.5 710.2 494 711.4 495.5 708.7 497 709.2 498.5 711.3 500 711 501.5 711.2 503 712.9 504.5 712.5 506 711.9 507.5 715.7 509 714.9 510.5 715.8 512 716.6 513.5 716.6 515 716.8 516.5 717.1 518 716.9 519.5 718.2 521 719.6 522.5 719.9 524 721.2 525.5 720.3 527 719.7 528.5 721.7 530 722.3 531.5 721.5 533 721.7 534.5 723.1 536 723.8 537.5 723.2 539 724.1 540.5 724.3 542 724.5 543.5 724.9 545 726 546.5 726.2 548 726.6 549.5 726.1 551 728.5 552.5 727.8 554 728.5 555.5 728.6 557 729.6 558.5 729.3" stroke="#de6a2e"/><path d="M684.5 757 686 756.7 687.5 756.3 689 756.2 690.5 755.6 692 755.1 693.5 755.2 695 754.6 696.5 754 698 754.3 699.5 753.9 701 753.5 702.5 752.8 704 752.2 705.5 752.3 707 752.1 708.5 751.6 710 751.2 711.5 750.4 713 750.3 714.5 750 716 749 717.5 748.5 719 748.4 720.5 748.1 722 747.6 723.5 744.5 725 746.6 726.5 746.1 728 745.6 729.5 745.4 731 744.9 732.5 744.4 734 744 735.5 743.2 737 743.1 738.5 742.2 740 742.2 741.5 741.2 743 740.8 744.5 739.9 746 736 747.5 739 749 738.4 750.5 737.8 752 737 753.5 736.7 755 736.1 756.5 735.4 758 734.9 759.5 733.6 761 732.5 762.5 732.1 764 730.8 765.5 729.9 767 730.3 768.5 729 770 728 771.5 726.9 773 726.5 774.5 724.7 776 725.2 777.5 723.9 779 724.7 780.5 722.2 782 722.8 783.5 721.4 785 721.3 786.5 720 788 720.3 789.5 718.8 791 718.6 792.5 718.5 794 719 795.5 718.1 797 718.7 798.5 717.9 800 714.5 801.5 716.5 803 714.6 804.5 716.1 806 716.7 807.5 714.4 809 713.8 810.5 715 812 714.3 813.5 715.7 815 714 816.5 713.5 818 714.5 819.5 711.9 821 712.7 822.5 710.6 824 711.2 825.5 711.6 827 710.9 828.5 709.4 830 708.2 831.5 707.5 833 706.3 834.5 707.7 836 708.1 837.5 703 839 702.9 840.5 706.5 842 702.2 843.5 704 845 701.6 846.5 703.6 848 702.8 849.5 701.6 851 701.6 852.5 700.7 854 700.4 855.5 702.6 857 700.2 858.5 698.1 860 698.1 861.5 698.2 863 698 864.5 698.2 866 696.8 867.5 698.1 869 697.3 870.5 698.6 872 696.9 873.5 697.5 875 695 876.5 698.7 878 697.5 879.5 695.8 881 696 882.5 695.7 884 694.4 885.5 693.7 887 692.1 888.5 691.4 890 694.2 891.5 692.1 893 693.4 894.5 696.7 896 691 897.5 692.4 899 694.5 900.5 694.1 902 695 903.5 691.9 905 690.7 906.5 693.9 908 692.5 909.5 695.8 911 693.3 912.5 692.7 914 693.5 915.5 692.1 917 692.8 918.5 692.1 920 692.7 921.5 692.5 923 692.6 924.5 692.2 926 691.6 927.5 694 929 692.7 930.5 690.6 932 692.3 933.5 691.5 935 697.1 936.5 691.8 938 695.6 939.5 693.1 941 695 942.5 693.8 944 694.4 945.5 696 947 695.6 948.5 694.2 950 694.1 951.5 698.8 953 697.1 954.5 695.6 956 696.3 957.5 695.8 959 697.8 960.5 698.4 962 696.5 963.5 698.4 965 696.2 966.5 699.2 968 701.6 969.5 698.4 971 699.5 972.5 700.9 974 699.5 975.5 699.1 977 701.2 978.5 700.6 980 700.1 981.5 702.5 983 701.7 984.5 699.1 986 702.4 987.5 701 989 704 990.5 704.2 992 702.3 993.5 702.8 995 702.3 996.5 700.7 998 702.8 999.5 702.8 1001 704.7 1002.5 705.6 1004 702.4 1005.5 703.5 1007 704.2 1008.5 704 1010 704.9 1011.5 705.8 1013 707.9 1014.5 707.6 1016 706.8 1017.5 707.1 1019 710.4 1020.5 711.1 1022 709 1023.5 710.2 1025 712.4 1026.5 714.3 1028 714 1029.5 714.6 1031 715.9 1032.5 715.4 1034 716.2 1035.5 718.2 1037 718 1038.5 718.2 1040 719.1 1041.5 719.1 1043 720.5 1044.5 722 1046 721.3 1047.5 723 1049 724 1050.5 723.6 1052 723.4 1053.5 723.6 1055 724.7 1056.5 724.5 1058 725.2 1059.5 726.2 1061 726.6 1062.5 727.5 1064 726.7 1065.5 728.6 1067 728.5 1068.5 728.9 1070 728.6 1071.5 729.8 1073 729.1 1074.5 730.4 1076 730.3 1077.5 730 1079 730.3 1080.5 731.5 1082 731.3 1083.5 730.8 1085 731.3 1086.5 731.3" stroke="#6a5898"/><path d="M684.5 757 686 756.6 687.5 756.2 689 756.1 690.5 755.7 692 755.1 693.5 755.3 695 754.6 696.5 753.9 698 754.2 699.5 753.9 701 753.5 702.5 753 704 752.3 705.5 752.3 707 752.1 708.5 751.5 710 751.2 711.5 750.4 713 750.3 714.5 749.9 716 749 717.5 748.6 719 748.3 720.5 748 722 747.6 723.5 744.6 725 746.6 726.5 746.2 728 745.8 729.5 745.4 731 744.9 732.5 744.3 734 743.9 735.5 743.2 737 743 738.5 742.2 740 742.1 741.5 741.3 743 740.8 744.5 739.9 746 736.1 747.5 739 749 738.5 750.5 737.8 752 737.1 753.5 736.7 755 736 756.5 735.4 758 734.9 759.5 733.7 761 732.4 762.5 732.2 764 730.8 765.5 730.1 767 730.1 768.5 729.1 770 727.8 771.5 727 773 726.4 774.5 724.8 776 725.1 777.5 723.9 779 724.4 780.5 722.1 782 722.6 783.5 721 785 721.5 786.5 719.7 788 720.3 789.5 719.1 791 718.5 792.5 718.5 794 718.6 795.5 718.2 797 718.7 798.5 717.8 800 715 801.5 716.3 803 714.9 804.5 715.8 806 716.2 807.5 714.4 809 714.2 810.5 715 812 714.3 813.5 715.4 815 714.1 816.5 713.9 818 714.5 819.5 712.2 821 712.2 822.5 710.8 824 711.4 825.5 711.6 827 711.4 828.5 709.5 830 708.3 831.5 707.6 833 706.4 834.5 707.3 836 707.9 837.5 703.5 839 703.1 840.5 706.2 842 702.5 843.5 704 845 701.7 846.5 703.4 848 702.9 849.5 701.7 851 701.9 852.5 700.6 854 700.8 855.5 701.9 857 700.2 858.5 698.2 860 697.8 861.5 698.2 863 698 864.5 698.2 866 697.1 867.5 698.5 869 697.6 870.5 698.1 872 697.2 873.5 697.7 875 695.2 876.5 698.4 878 696.5 879.5 696.2 881 695.8 882.5 695.7 884 694.6 885.5 693.5 887 692.7 888.5 690.9 890 694.1 891.5 692.6 893 692.6 894.5 696.3 896 690.4 897.5 693.1 899 694.7 900.5 694.3 902 694.7 903.5 691.3 905 691.7 906.5 693.9 908 692.6 909.5 695.4 911 693.3 912.5 693.3 914 693.6 915.5 692.6 917 693.2 918.5 692.1 920 693 921.5 692.3 923 693.4 924.5 691.1 926 691 927.5 693.6 929 693.3 930.5 691.7 932 692.7 933.5 691.7 935 696 936.5 691.2 938 695.8 939.5 692.6 941 694.4 942.5 693.7 944 693.8 945.5 695.8 947 695.9 948.5 694.7 950 694.2 951.5 698.4 953 697.7 954.5 696.3 956 696 957.5 697 959 697 960.5 698.6 962 696.1 963.5 697.6 965 696.9 966.5 699.7 968 700.6 969.5 698.5 971 699.5 972.5 700.8 974 699 975.5 698.5 977 701.1 978.5 700.7 980 700.1 981.5 702.3 983 701.1 984.5 699 986 701.7 987.5 701.4 989 703.8 990.5 703.5 992 701.7 993.5 702.7 995 702.6 996.5 701 998 702.9 999.5 702.6 1001 704.8 1002.5 706.2 1004 702.7 1005.5 703.3 1007 703.9 1008.5 704.6 1010 705.1 1011.5 706.4 1013 708.1 1014.5 706.3 1016 706.8 1017.5 707.2 1019 710.6 1020.5 711.5 1022 709.6 1023.5 710.2 1025 712.4 1026.5 713.9 1028 714.5 1029.5 714.4 1031 715.5 1032.5 716 1034 716 1035.5 718.6 1037 717.9 1038.5 717.9 1040 719.1 1041.5 719 1043 720.7 1044.5 721.9 1046 721 1047.5 723 1049 724.1 1050.5 723.6 1052 723.2 1053.5 723.9 1055 724.6 1056.5 724.6 1058 725.1 1059.5 726.1 1061 726.5 1062.5 727.3 1064 726.9 1065.5 728.6 1067 728.6 1068.5 728.9 1070 728.6 1071.5 729.9 1073 729.3 1074.5 730.4 1076 730.4 1077.5 729.9 1079 730.3 1080.5 731.4 1082 731.2 1083.5 731 1085 731.3 1086.5 731.5" stroke="#de6a2e"/></g><g fill="none" stroke="#000" stroke-width="1" stroke-dasharray="1 4" shape-rendering="crispEdges"><path d="M159 150.5H559"/><path d="M157 126.5H559"/><path d="M160 101.5H559"/><path d="M187.5 100V166"/><path d="M258.5 102V163"/><path d="M330.5 99V165"/><path d="M402.5 101V162"/><path d="M474.5 98V164"/><path d="M545.5 100V166"/><path d="M687 151.5H1087"/><path d="M685 128.5H1087"/><path d="M688 105.5H1087"/><path d="M715.5 100V166"/><path d="M787.5 102V163"/><path d="M858.5 99V165"/><path d="M930.5 101V162"/><path d="M1002.5 98V164"/><path d="M1074.5 100V166"/><path d="M159 349.5H559"/><path d="M157 325.5H559"/><path d="M160 301.5H559"/><path d="M187.5 298V364"/><path d="M258.5 296V362"/><path d="M330.5 299V360"/><path d="M402.5 297V363"/><path d="M474.5 295V361"/><path d="M545.5 298V364"/><path d="M687 348.5H1087"/><path d="M685 322.5H1087"/><path d="M688 297.5H1087"/><path d="M715.5 298V364"/><path d="M787.5 296V362"/><path d="M858.5 299V360"/><path d="M930.5 297V363"/><path d="M1002.5 295V361"/><path d="M1074.5 298V364"/><path d="M159 559.5H559"/><path d="M157 549.5H559"/><path d="M160 538.5H559"/><path d="M158 528.5H559"/><path d="M156 517.5H559"/><path d="M159 507.5H559"/><path d="M157 497.5H559"/><path d="M187.5 495V561"/><path d="M258.5 497V558"/><path d="M330.5 494V560"/><path d="M402.5 496V557"/><path d="M474.5 493V559"/><path d="M545.5 495V561"/><path d="M687 559.5H1087"/><path d="M685 548.5H1087"/><path d="M688 536.5H1087"/><path d="M686 525.5H1087"/><path d="M684 514.5H1087"/><path d="M687 502.5H1087"/><path d="M715.5 495V561"/><path d="M787.5 497V558"/><path d="M858.5 494V560"/><path d="M930.5 496V557"/><path d="M1002.5 493V559"/><path d="M1074.5 495V561"/><path d="M159 755.5H559"/><path d="M157 742.5H559"/><path d="M160 730.5H559"/><path d="M158 718.5H559"/><path d="M156 705.5H559"/><path d="M159 693.5H559"/><path d="M187.5 692V758"/><path d="M258.5 694V755"/><path d="M330.5 691V757"/><path d="M402.5 693V754"/><path d="M474.5 690V756"/><path d="M545.5 692V758"/><path d="M687 749.5H1087"/><path d="M685 732.5H1087"/><path d="M688 715.5H1087"/><path d="M686 698.5H1087"/><path d="M715.5 692V758"/><path d="M787.5 694V755"/><path d="M858.5 691V757"/><path d="M930.5 693V754"/><path d="M1002.5 690V756"/><path d="M1074.5 692V758"/></g><g fill="#000" shape-rendering="crispEdges"><rect x="156" y="98" width="1" height="68"/><rect x="156" y="165" width="403" height="1"/><rect x="187" y="160" width="1" height="5"/><rect x="258" y="160" width="1" height="5"/><rect x="330" y="160" width="1" height="5"/><rect x="402" y="160" width="1" height="5"/><rect x="474" y="160" width="1" height="5"/><rect x="545" y="160" width="1" height="5"/><rect x="157" y="101" width="4" height="1"/><rect x="157" y="126" width="4" height="1"/><rect x="157" y="150" width="4" height="1"/><rect x="684" y="98" width="1" height="68"/><rect x="684" y="165" width="403" height="1"/><rect x="715" y="160" width="1" height="5"/><rect x="787" y="160" width="1" height="5"/><rect x="858" y="160" width="1" height="5"/><rect x="930" y="160" width="1" height="5"/><rect x="1002" y="160" width="1" height="5"/><rect x="1074" y="160" width="1" height="5"/><rect x="685" y="105" width="4" height="1"/><rect x="685" y="128" width="4" height="1"/><rect x="685" y="151" width="4" height="1"/><rect x="156" y="295" width="1" height="69"/><rect x="156" y="363" width="403" height="1"/><rect x="187" y="358" width="1" height="5"/><rect x="258" y="358" width="1" height="5"/><rect x="330" y="358" width="1" height="5"/><rect x="402" y="358" width="1" height="5"/><rect x="474" y="358" width="1" height="5"/><rect x="545" y="358" width="1" height="5"/><rect x="157" y="301" width="4" height="1"/><rect x="157" y="325" width="4" height="1"/><rect x="157" y="349" width="4" height="1"/><rect x="684" y="295" width="1" height="69"/><rect x="684" y="363" width="403" height="1"/><rect x="715" y="358" width="1" height="5"/><rect x="787" y="358" width="1" height="5"/><rect x="858" y="358" width="1" height="5"/><rect x="930" y="358" width="1" height="5"/><rect x="1002" y="358" width="1" height="5"/><rect x="1074" y="358" width="1" height="5"/><rect x="685" y="297" width="4" height="1"/><rect x="685" y="322" width="4" height="1"/><rect x="685" y="348" width="4" height="1"/><rect x="156" y="493" width="1" height="68"/><rect x="156" y="560" width="403" height="1"/><rect x="187" y="555" width="1" height="5"/><rect x="258" y="555" width="1" height="5"/><rect x="330" y="555" width="1" height="5"/><rect x="402" y="555" width="1" height="5"/><rect x="474" y="555" width="1" height="5"/><rect x="545" y="555" width="1" height="5"/><rect x="157" y="497" width="4" height="1"/><rect x="157" y="507" width="4" height="1"/><rect x="157" y="517" width="4" height="1"/><rect x="157" y="528" width="4" height="1"/><rect x="157" y="538" width="4" height="1"/><rect x="157" y="549" width="4" height="1"/><rect x="157" y="559" width="4" height="1"/><rect x="684" y="493" width="1" height="68"/><rect x="684" y="560" width="403" height="1"/><rect x="715" y="555" width="1" height="5"/><rect x="787" y="555" width="1" height="5"/><rect x="858" y="555" width="1" height="5"/><rect x="930" y="555" width="1" height="5"/><rect x="1002" y="555" width="1" height="5"/><rect x="1074" y="555" width="1" height="5"/><rect x="685" y="502" width="4" height="1"/><rect x="685" y="514" width="4" height="1"/><rect x="685" y="525" width="4" height="1"/><rect x="685" y="536" width="4" height="1"/><rect x="685" y="548" width="4" height="1"/><rect x="685" y="559" width="4" height="1"/><rect x="156" y="690" width="1" height="68"/><rect x="156" y="757" width="403" height="1"/><rect x="187" y="752" width="1" height="5"/><rect x="258" y="752" width="1" height="5"/><rect x="330" y="752" width="1" height="5"/><rect x="402" y="752" width="1" height="5"/><rect x="474" y="752" width="1" height="5"/><rect x="545" y="752" width="1" height="5"/><rect x="157" y="693" width="4" height="1"/><rect x="157" y="705" width="4" height="1"/><rect x="157" y="718" width="4" height="1"/><rect x="157" y="730" width="4" height="1"/><rect x="157" y="742" width="4" height="1"/><rect x="157" y="755" width="4" height="1"/><rect x="684" y="690" width="1" height="68"/><rect x="684" y="757" width="403" height="1"/><rect x="715" y="752" width="1" height="5"/><rect x="787" y="752" width="1" height="5"/><rect x="858" y="752" width="1" height="5"/><rect x="930" y="752" width="1" height="5"/><rect x="1002" y="752" width="1" height="5"/><rect x="1074" y="752" width="1" height="5"/><rect x="685" y="698" width="4" height="1"/><rect x="685" y="715" width="4" height="1"/><rect x="685" y="732" width="4" height="1"/><rect x="685" y="749" width="4" height="1"/></g><g font-family="Liberation Sans" font-size="25" fill="#000" style="will-change:transform"><text transform="translate(187.5 201) scale(0.926 1)" text-anchor="middle">3265</text><text transform="translate(258.5 201) scale(0.926 1)" text-anchor="middle">3270</text><text transform="translate(330.5 201) scale(0.926 1)" text-anchor="middle">3275</text><text transform="translate(402.5 201) scale(0.926 1)" text-anchor="middle">3280</text><text transform="translate(474.5 201) scale(0.926 1)" text-anchor="middle">3285</text><text transform="translate(545.5 201) scale(0.926 1)" text-anchor="middle">3290</text><text transform="translate(151 113) scale(0.923 1)" text-anchor="end">150</text><text transform="translate(151 138) scale(0.923 1)" text-anchor="end">100</text><text transform="translate(151 162) scale(0.923 1)" text-anchor="end">50</text><text transform="translate(328.00 78) scale(1.0 1)">Bin 1</text><text transform="translate(250 239) scale(0.964 1)">Wavenumber [cm<tspan font-size="18" dx="2" dy="-12">-1</tspan><tspan dx="1.5" dy="12">]</tspan></text><text transform="translate(97 133.7) rotate(-90) scale(1.0 1)" text-anchor="middle">ADU</text><text transform="translate(715.5 201) scale(0.926 1)" text-anchor="middle">3265</text><text transform="translate(787.5 201) scale(0.926 1)" text-anchor="middle">3270</text><text transform="translate(858.5 201) scale(0.926 1)" text-anchor="middle">3275</text><text transform="translate(930.5 201) scale(0.926 1)" text-anchor="middle">3280</text><text transform="translate(1002.5 201) scale(0.926 1)" text-anchor="middle">3285</text><text transform="translate(1074.5 201) scale(0.926 1)" text-anchor="middle">3290</text><text transform="translate(679 117) scale(0.923 1)" text-anchor="end">150</text><text transform="translate(679 140) scale(0.923 1)" text-anchor="end">100</text><text transform="translate(679 163) scale(0.923 1)" text-anchor="end">50</text><text transform="translate(856.00 78) scale(1.0 1)">Bin 2</text><text transform="translate(778 239) scale(0.964 1)">Wavenumber [cm<tspan font-size="18" dx="2" dy="-12">-1</tspan><tspan dx="1.5" dy="12">]</tspan></text><text transform="translate(625 133.7) rotate(-90) scale(1.0 1)" text-anchor="middle">ADU</text><text transform="translate(187.5 399) scale(0.926 1)" text-anchor="middle">3265</text><text transform="translate(258.5 399) scale(0.926 1)" text-anchor="middle">3270</text><text transform="translate(330.5 399) scale(0.926 1)" text-anchor="middle">3275</text><text transform="translate(402.5 399) scale(0.926 1)" text-anchor="middle">3280</text><text transform="translate(474.5 399) scale(0.926 1)" text-anchor="middle">3285</text><text transform="translate(545.5 399) scale(0.926 1)" text-anchor="middle">3290</text><text transform="translate(151 313) scale(0.923 1)" text-anchor="end">150</text><text transform="translate(151 337) scale(0.923 1)" text-anchor="end">100</text><text transform="translate(151 361) scale(0.923 1)" text-anchor="end">50</text><text transform="translate(328.00 275) scale(1.0 1)">Bin 3</text><text transform="translate(250 437) scale(0.964 1)">Wavenumber [cm<tspan font-size="18" dx="2" dy="-12">-1</tspan><tspan dx="1.5" dy="12">]</tspan></text><text transform="translate(97 331.2) rotate(-90) scale(1.0 1)" text-anchor="middle">ADU</text><text transform="translate(715.5 399) scale(0.926 1)" text-anchor="middle">3265</text><text transform="translate(787.5 399) scale(0.926 1)" text-anchor="middle">3270</text><text transform="translate(858.5 399) scale(0.926 1)" text-anchor="middle">3275</text><text transform="translate(930.5 399) scale(0.926 1)" text-anchor="middle">3280</text><text transform="translate(1002.5 399) scale(0.926 1)" text-anchor="middle">3285</text><text transform="translate(1074.5 399) scale(0.926 1)" text-anchor="middle">3290</text><text transform="translate(679 309) scale(0.923 1)" text-anchor="end">150</text><text transform="translate(679 334) scale(0.923 1)" text-anchor="end">100</text><text transform="translate(679 360) scale(0.923 1)" text-anchor="end">50</text><text transform="translate(856.00 275) scale(1.0 1)">Bin 4</text><text transform="translate(778 437) scale(0.964 1)">Wavenumber [cm<tspan font-size="18" dx="2" dy="-12">-1</tspan><tspan dx="1.5" dy="12">]</tspan></text><text transform="translate(625 331.2) rotate(-90) scale(1.0 1)" text-anchor="middle">ADU</text><text transform="translate(187.5 596) scale(0.926 1)" text-anchor="middle">3265</text><text transform="translate(258.5 596) scale(0.926 1)" text-anchor="middle">3270</text><text transform="translate(330.5 596) scale(0.926 1)" text-anchor="middle">3275</text><text transform="translate(402.5 596) scale(0.926 1)" text-anchor="middle">3280</text><text transform="translate(474.5 596) scale(0.926 1)" text-anchor="middle">3285</text><text transform="translate(545.5 596) scale(0.926 1)" text-anchor="middle">3290</text><text transform="translate(151 509) scale(0.923 1)" text-anchor="end">140</text><text transform="translate(151 519) scale(0.923 1)" text-anchor="end">120</text><text transform="translate(151 529) scale(0.923 1)" text-anchor="end">100</text><text transform="translate(151 540) scale(0.923 1)" text-anchor="end">80</text><text transform="translate(151 550) scale(0.923 1)" text-anchor="end">60</text><text transform="translate(151 561) scale(0.923 1)" text-anchor="end">40</text><text transform="translate(151 571) scale(0.923 1)" text-anchor="end">20</text><text transform="translate(328.00 473) scale(1.0 1)">Bin 5</text><text transform="translate(250 634) scale(0.964 1)">Wavenumber [cm<tspan font-size="18" dx="2" dy="-12">-1</tspan><tspan dx="1.5" dy="12">]</tspan></text><text transform="translate(97 528.7) rotate(-90) scale(1.0 1)" text-anchor="middle">ADU</text><text transform="translate(715.5 596) scale(0.926 1)" text-anchor="middle">3265</text><text transform="translate(787.5 596) scale(0.926 1)" text-anchor="middle">3270</text><text transform="translate(858.5 596) scale(0.926 1)" text-anchor="middle">3275</text><text transform="translate(930.5 596) scale(0.926 1)" text-anchor="middle">3280</text><text transform="translate(1002.5 596) scale(0.926 1)" text-anchor="middle">3285</text><text transform="translate(1074.5 596) scale(0.926 1)" text-anchor="middle">3290</text><text transform="translate(679 514) scale(0.923 1)" text-anchor="end">120</text><text transform="translate(679 526) scale(0.923 1)" text-anchor="end">100</text><text transform="translate(679 537) scale(0.923 1)" text-anchor="end">80</text><text transform="translate(679 548) scale(0.923 1)" text-anchor="end">60</text><text transform="translate(679 560) scale(0.923 1)" text-anchor="end">40</text><text transform="translate(679 571) scale(0.923 1)" text-anchor="end">20</text><text transform="translate(856.00 473) scale(1.0 1)">Bin 6</text><text transform="translate(778 634) scale(0.964 1)">Wavenumber [cm<tspan font-size="18" dx="2" dy="-12">-1</tspan><tspan dx="1.5" dy="12">]</tspan></text><text transform="translate(625 528.7) rotate(-90) scale(1.0 1)" text-anchor="middle">ADU</text><text transform="translate(187.5 793) scale(0.926 1)" text-anchor="middle">3265</text><text transform="translate(258.5 793) scale(0.926 1)" text-anchor="middle">3270</text><text transform="translate(330.5 793) scale(0.926 1)" text-anchor="middle">3275</text><text transform="translate(402.5 793) scale(0.926 1)" text-anchor="middle">3280</text><text transform="translate(474.5 793) scale(0.926 1)" text-anchor="middle">3285</text><text transform="translate(545.5 793) scale(0.926 1)" text-anchor="middle">3290</text><text transform="translate(151 705) scale(0.923 1)" text-anchor="end">120</text><text transform="translate(151 717) scale(0.923 1)" text-anchor="end">100</text><text transform="translate(151 730) scale(0.923 1)" text-anchor="end">80</text><text transform="translate(151 742) scale(0.923 1)" text-anchor="end">60</text><text transform="translate(151 754) scale(0.923 1)" text-anchor="end">40</text><text transform="translate(151 767) scale(0.923 1)" text-anchor="end">20</text><text transform="translate(328.00 670) scale(1.0 1)">Bin 7</text><text transform="translate(250 831) scale(0.964 1)">Wavenumber [cm<tspan font-size="18" dx="2" dy="-12">-1</tspan><tspan dx="1.5" dy="12">]</tspan></text><text transform="translate(97 725.7) rotate(-90) scale(1.0 1)" text-anchor="middle">ADU</text><text transform="translate(715.5 793) scale(0.926 1)" text-anchor="middle">3265</text><text transform="translate(787.5 793) scale(0.926 1)" text-anchor="middle">3270</text><text transform="translate(858.5 793) scale(0.926 1)" text-anchor="middle">3275</text><text transform="translate(930.5 793) scale(0.926 1)" text-anchor="middle">3280</text><text transform="translate(1002.5 793) scale(0.926 1)" text-anchor="middle">3285</text><text transform="translate(1074.5 793) scale(0.926 1)" text-anchor="middle">3290</text><text transform="translate(679 710) scale(0.923 1)" text-anchor="end">80</text><text transform="translate(679 727) scale(0.923 1)" text-anchor="end">60</text><text transform="translate(679 744) scale(0.923 1)" text-anchor="end">40</text><text transform="translate(679 761) scale(0.923 1)" text-anchor="end">20</text><text transform="translate(856.00 670) scale(1.0 1)">Bin 8</text><text transform="translate(778 831) scale(0.964 1)">Wavenumber [cm<tspan font-size="18" dx="2" dy="-12">-1</tspan><tspan dx="1.5" dy="12">]</tspan></text><text transform="translate(625 725.7) rotate(-90) scale(1.0 1)" text-anchor="middle">ADU</text></g></svg></body></html>
